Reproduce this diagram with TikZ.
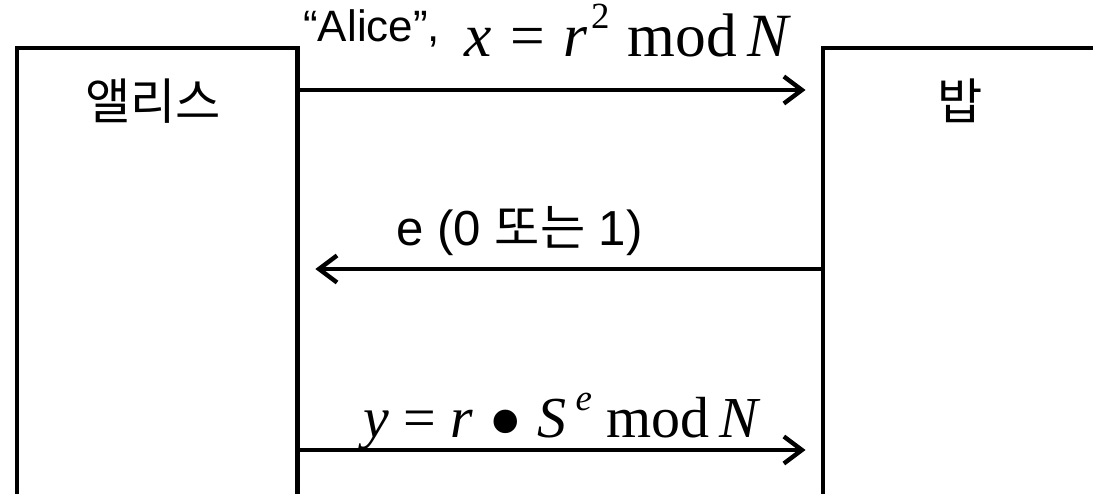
\documentclass[tikz,border=0pt]{standalone}
\usepackage{fontspec}
\setmainfont{Liberation Sans}
\newfontfamily\krfont{Noto Sans CJK KR}
\newfontfamily\tmsfont{Liberation Serif}
\usetikzlibrary{arrows.meta}

\newcommand{\supnum}[1]{\raisebox{0.45em}{\fontsize{21}{21}\selectfont #1}}

\begin{document}
\begin{tikzpicture}[x=0.02cm, y=-0.02cm,
  party/.style={draw, line width=2.8pt, anchor=north west, minimum height=9.8cm, inner sep=0pt},
  msg/.style={line width=2.5pt, shorten >=0.3cm, -{Straight Barb[length=0.36cm, width=0.54cm, line width=2.5pt]}},
  lbl/.style={font=\fontsize{25}{29}\selectfont, inner sep=0pt, anchor=base west},
  mth/.style={font=\fontsize{33}{38}\selectfont\tmsfont, inner sep=0pt, anchor=base west},
  partyname/.style={font=\fontsize{28}{32}\selectfont\krfont, inner sep=0pt}]
\useasboundingbox (0,0) rectangle (1093,494);
% the two parties
\node[party, minimum width=5.62cm] (alice) at (14.5,45.5) {};
\node[party, minimum width=6cm] (bob) at (820.5,45.5) {};
\node[partyname] (alicename) at (153,101) {앨리스};
\node[partyname] (bobname) at (960,101) {밥};
% message rows
\coordinate (row1) at (0,90);
\coordinate (row2) at (0,269);
\coordinate (row3) at (0,450);
\draw[msg] (alice.east |- row1) -- (bob.west |- row1);
\draw[msg] (bob.west |- row2) -- (alice.east |- row2);
\draw[msg] (alice.east |- row3) -- (bob.west |- row3);
% labels
\node[lbl] (claim) at (303,41) {“Alice”,};
\node[mth, font=\fontsize{35}{38}\selectfont\tmsfont] (commit) at (464,56)
  {\textit{x}\hspace{0.3em}=\hspace{0.3em}\textit{r}\kern0.06em\supnum{2}\hspace{0.3em}mod\,\textit{N}};
\node[lbl, font=\fontsize{28}{31}\selectfont] (challenge) at (396,245) {e (0 {\krfont 또는} 1)};
\node[mth] (response) at (363,437)
  {\textit{y} = \textit{r} \raisebox{-0.3em}{\scalebox{1.7}{•}} \textit{S}\,\supnum{\textit{e}} mod\,\textit{N}};
\end{tikzpicture}
\end{document}
